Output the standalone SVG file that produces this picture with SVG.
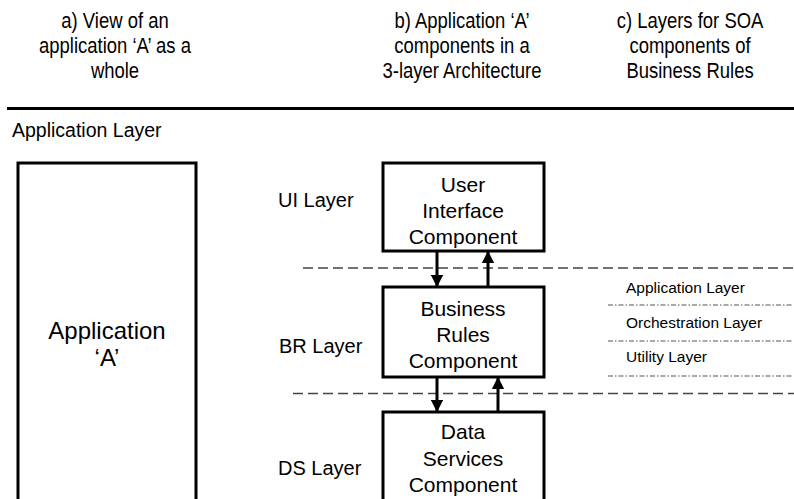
<svg xmlns="http://www.w3.org/2000/svg" width="794" height="499" viewBox="0 0 794 499">
<defs>
<style>
text{font-family:"Liberation Sans",Arial,sans-serif;fill:#000}
.h{font-size:22px;text-anchor:middle}
.lbl{font-size:20px}
.box{fill:#fff;stroke:#000;stroke-width:3}
.bt{font-size:21px;text-anchor:middle}
.dash{stroke:#444;stroke-width:1.3;stroke-dasharray:10 5;fill:none}
.dd{stroke:#555;stroke-width:1.2;stroke-dasharray:5 2 1.5 2;fill:none}
.arr{stroke:#000;stroke-width:3;fill:none;marker-end:url(#ah)}
.sm{font-size:15.5px}
</style>
<marker id="ah" viewBox="0 0 10 10" refX="9" refY="5" markerWidth="4.2" markerHeight="4.2" markerUnits="strokeWidth" orient="auto">
<path d="M0,0 L10,5 L0,10 z" fill="#000"/>
</marker>
</defs>
<rect width="794" height="499" fill="#fff"/>
<g id="headers">
<g transform="translate(115,0) scale(0.84,1)">
<text class="h" x="0" y="28">a) View of an</text>
<text class="h" x="0" y="53">application ‘A’ as a</text>
<text class="h" x="0" y="78">whole</text>
</g>
<g transform="translate(462,0) scale(0.84,1)">
<text class="h" x="0" y="28">b) Application ‘A’</text>
<text class="h" x="0" y="53">components in a</text>
<text class="h" x="0" y="78">3-layer Architecture</text>
</g>
<g transform="translate(690,0) scale(0.84,1)">
<text class="h" x="0" y="28">c) Layers for SOA</text>
<text class="h" x="0" y="53">components of</text>
<text class="h" x="0" y="78">Business Rules</text>
</g>
</g>
<line x1="7" y1="108.5" x2="794" y2="108.5" stroke="#000" stroke-width="3"/>
<text x="12" y="137" style="font-size:19.5px">Application Layer</text>
<g id="appA">
<rect class="box" x="18" y="163" width="178" height="360"/>
<text class="bt" x="107" y="339" style="font-size:24px">Application</text>
<text class="bt" x="107" y="366" style="font-size:24px">‘A’</text>
</g>
<g id="layerLabels">
<text class="lbl" x="278" y="207">UI Layer</text>
<text class="lbl" x="279" y="353">BR Layer</text>
<text class="lbl" x="278" y="475">DS Layer</text>
</g>
<g id="dividers">
<line class="dash" x1="303" y1="268" x2="794" y2="268"/>
<line class="dash" x1="293" y1="393.5" x2="794" y2="393.5"/>
</g>
<g id="ui">
<rect class="box" x="383" y="163" width="161" height="88"/>
<text class="bt" x="463" y="192">User</text>
<text class="bt" x="463" y="218">Interface</text>
<text class="bt" x="463" y="244">Component</text>
</g>
<g id="br">
<rect class="box" x="383" y="287" width="161" height="90"/>
<text class="bt" x="463" y="316">Business</text>
<text class="bt" x="463" y="342">Rules</text>
<text class="bt" x="463" y="368">Component</text>
</g>
<g id="ds">
<rect class="box" x="383" y="412" width="161" height="110"/>
<text class="bt" x="463" y="439">Data</text>
<text class="bt" x="463" y="466">Services</text>
<text class="bt" x="463" y="492">Component</text>
</g>
<g id="soa">
<text class="sm" x="626" y="293">Application Layer</text>
<line class="dd" x1="608" y1="305" x2="792" y2="305"/>
<text class="sm" x="626" y="328">Orchestration Layer</text>
<line class="dd" x1="608" y1="341" x2="792" y2="341"/>
<text class="sm" x="626" y="362">Utility Layer</text>
<line class="dd" x1="608" y1="376" x2="792" y2="376"/>
</g>
<g id="connectors">
<line class="arr" x1="437" y1="252" x2="437" y2="286"/>
<line class="arr" x1="488" y1="286" x2="488" y2="252"/>
<line class="arr" x1="437" y1="378" x2="437" y2="411"/>
<line class="arr" x1="498" y1="411" x2="498" y2="378"/>
</g>
</svg>
